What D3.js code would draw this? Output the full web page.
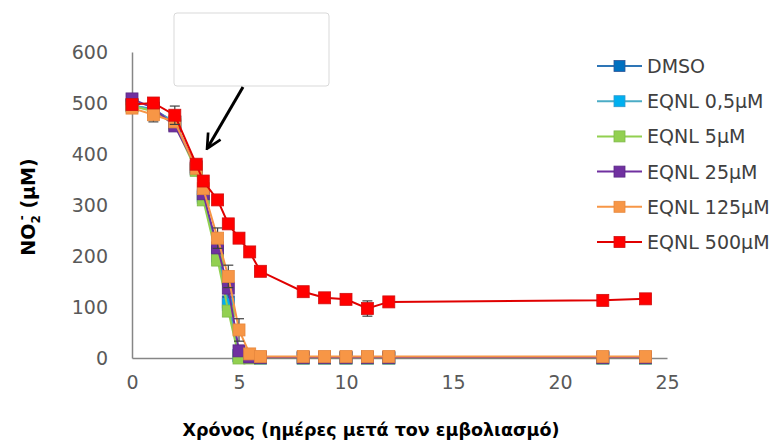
<!DOCTYPE html>
<html>
<head>
<meta charset="utf-8">
<script src="https://cdn.jsdelivr.net/npm/d3@7"></script>
<style>
  body { margin: 0; background: #fff; }
  text { font-family: "DejaVu Sans", sans-serif; }
</style>
</head>
<body>
<div id="chart"></div>
<script>
// days after inoculation
var days = [0, 1, 2, 3, 3.33, 4, 4.5, 5, 5.5, 6, 8, 9, 10, 11, 12, 22, 24];

var seriesNames = ["DMSO", "EQNL 0,5μM", "EQNL 5μM", "EQNL 25μM", "EQNL 125μM", "EQNL 500μM"];

var dmso   = [495, 488, 462, 372, 318, 208, 110, 5, 1, 0, 0, 0, 0, 0, 0, 0, 0];
var eq05   = [496, 486, 463, 370, 315, 200, 105, 4, 1, 0, 0, 0, 0, 0, 0, 0, 0];
var eq5    = [494, 484, 458, 368, 310, 192, 92, 0, 0, 0, 0, 0, 0, 0, 0, 0, 0];
var eq25   = [508, 490, 455, 375, 322, 216, 137, 14, 2, 1, 1, 1, 1, 1, 1, 1, 1];
var eq125  = [490, 477, 463, 372, 332, 235, 160, 55, 8, 3, 3, 3, 3, 3, 3, 3, 3];
var eq500  = [497, 500, 476, 380, 347, 310, 263, 235, 208, 170, 130, 118, 115, 97, 110, 113, 116];

// standard deviations (0 = no visible bar)
var errDmso  = [0, 0, 0, 0, 0, 22, 25, 0, 0, 0, 0, 0, 0, 0, 0, 0, 0];
var errEq125 = [0, 14, 0, 0, 0, 20, 22, 22, 0, 0, 0, 0, 0, 0, 0, 0, 0];
var errEq500 = [0, 0, 18, 0, 0, 0, 0, 0, 0, 0, 0, 0, 0, 15, 0, 0, 0];

var seriesValues = [dmso, eq05, eq5, eq25, eq125, eq500];
var seriesErrors = [errDmso, null, null, null, errEq125, errEq500];

var lineColours   = ["#2e75b6", "#4bacc6", "#92d050", "#7030a0", "#f79646", "#e00000"];
var markerColours = ["#0070c0", "#00b0f0", "#92d050", "#7030a0", "#f79646", "#ff0000"];
var markerStroke  = ["#2f5597", "#3399cc", "#7fb84a", "#5b2a85", "#e6883e", "#d01010"];

var xTicks = [0, 5, 10, 15, 20, 25];
var yTicks = [0, 100, 200, 300, 400, 500, 600];

var width = 774, height = 440,
    margin = { top: 52, right: 107, bottom: 82, left: 132 };

var svg = d3.select("#chart").append("svg")
    .attr("width", width)
    .attr("height", height);

var xScale = d3.scaleLinear().domain([0, 25]).range([margin.left, width - margin.right]);
var yScale = d3.scaleLinear().domain([0, 600]).range([height - margin.bottom, margin.top]);

// annotation box (faded) and arrow
svg.append("rect")
    .attr("x", 174).attr("y", 13)
    .attr("width", 155).attr("height", 73)
    .attr("rx", 3)
    .attr("fill", "#fff")
    .attr("stroke", "#d9d9d9");

svg.append("defs").append("marker")
    .attr("id", "arrowhead")
    .attr("viewBox", "0 0 10 10")
    .attr("refX", 8).attr("refY", 5)
    .attr("markerWidth", 6).attr("markerHeight", 6)
    .attr("orient", "auto")
  .append("path")
    .attr("d", "M1,1 L9,5 L1,9")
    .attr("fill", "none")
    .attr("stroke", "#000")
    .attr("stroke-width", 1.5);

svg.append("line")
    .attr("x1", 243).attr("y1", 87)
    .attr("x2", 208).attr("y2", 147)
    .attr("stroke", "#000")
    .attr("stroke-width", 3)
    .attr("marker-end", "url(#arrowhead)");

// axes
var xAxis = d3.axisBottom(xScale).tickValues(xTicks).tickSize(0).tickSizeOuter(0).tickPadding(18);
var yAxis = d3.axisLeft(yScale).tickValues(yTicks).tickSize(0).tickSizeOuter(0).tickPadding(24);

var xAxisG = svg.append("g")
    .attr("transform", "translate(0," + yScale(0) + ")")
    .call(xAxis);
var yAxisG = svg.append("g")
    .attr("transform", "translate(" + xScale(0) + ",0)")
    .call(yAxis);

[xAxisG, yAxisG].forEach(function(g){
  g.select(".domain").attr("stroke", "#868686").attr("stroke-width", 1.5);
  g.selectAll("text")
    .attr("fill", "#595959")
    .style("font-size", "19px");
});

// axis titles
svg.append("text")
    .attr("x", 371).attr("y", 436)
    .attr("text-anchor", "middle")
    .style("font-size", "17.5px")
    .style("font-weight", "bold")
    .attr("fill", "#000")
    .text("Χρόνος (ημέρες μετά τον εμβολιασμό)");

var yTitle = svg.append("text")
    .attr("transform", "translate(35,207) rotate(-90)")
    .attr("text-anchor", "middle")
    .style("font-size", "19px")
    .style("font-weight", "bold")
    .attr("fill", "#000");
yTitle.append("tspan").text("NO");
yTitle.append("tspan").attr("dy", 5).style("font-size", "12px").text("2");
yTitle.append("tspan").attr("dy", -14).attr("dx", -5).style("font-size", "12px").text("-");
yTitle.append("tspan").attr("dy", 9).text(" (μM)");

// series
var line = d3.line()
    .x(function(d){ return xScale(d.t); })
    .y(function(d){ return yScale(d.v); });

var ms = 12;

seriesValues.forEach(function(vals, i){
  var data = days.map(function(t, j){
    return { t: t, v: vals[j], e: seriesErrors[i] ? seriesErrors[i][j] : 0 };
  });
  var g = svg.append("g");

  g.append("path")
    .datum(data)
    .attr("fill", "none")
    .attr("stroke", lineColours[i])
    .attr("stroke-width", 2)
    .attr("d", line);

  var eb = g.selectAll(".err")
    .data(data.filter(function(d){ return d.e > 0; }))
    .enter().append("g")
    .attr("stroke", "#404040")
    .attr("stroke-width", 1.2);
  eb.append("line")
    .attr("x1", function(d){ return xScale(d.t); })
    .attr("x2", function(d){ return xScale(d.t); })
    .attr("y1", function(d){ return yScale(d.v - d.e); })
    .attr("y2", function(d){ return yScale(d.v + d.e); });
  [-1, 1].forEach(function(s){
    eb.append("line")
      .attr("x1", function(d){ return xScale(d.t) - 5; })
      .attr("x2", function(d){ return xScale(d.t) + 5; })
      .attr("y1", function(d){ return yScale(d.v + s * d.e); })
      .attr("y2", function(d){ return yScale(d.v + s * d.e); });
  });

  g.selectAll(".pt")
    .data(data)
    .enter().append("rect")
    .attr("x", function(d){ return xScale(d.t) - ms / 2; })
    .attr("y", function(d){ return yScale(d.v) - ms / 2; })
    .attr("width", ms).attr("height", ms)
    .attr("fill", markerColours[i])
    .attr("stroke", markerStroke[i])
    .attr("stroke-width", 0.8);
});

// legend
var legend = svg.append("g");
seriesNames.forEach(function(name, i){
  var ly = 66 + i * 35.2;
  legend.append("line")
    .attr("x1", 597).attr("x2", 642)
    .attr("y1", ly).attr("y2", ly)
    .attr("stroke", lineColours[i])
    .attr("stroke-width", 2);
  legend.append("rect")
    .attr("x", 614).attr("y", ly - 5.5)
    .attr("width", 11).attr("height", 11)
    .attr("fill", markerColours[i])
    .attr("stroke", markerStroke[i])
    .attr("stroke-width", 0.8);
  legend.append("text")
    .attr("x", 647).attr("y", ly + 7)
    .attr("fill", "#404040")
    .style("font-size", "19px")
    .text(name);
});
</script>
</body>
</html>
